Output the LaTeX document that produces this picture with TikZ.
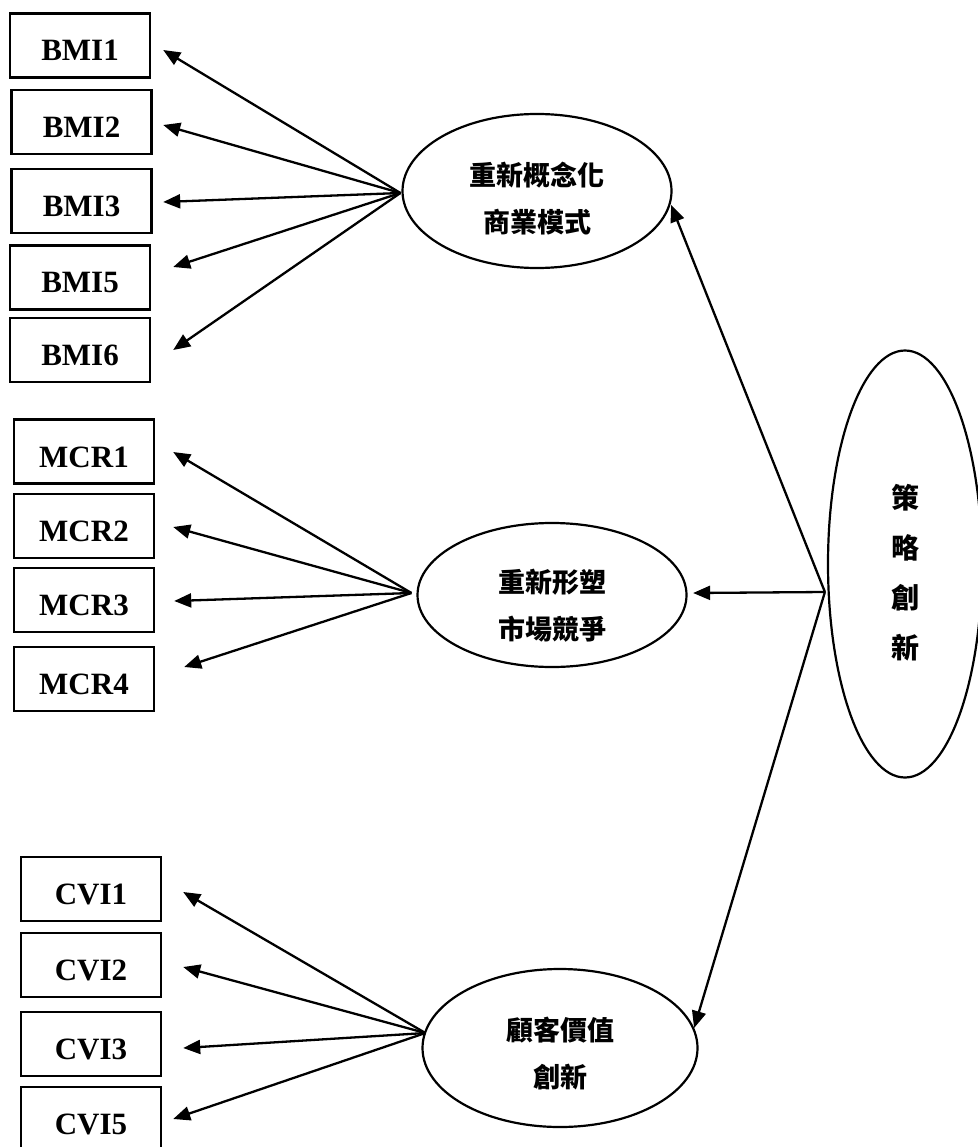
\documentclass[tikz,border=0pt]{standalone}
\usepackage{fontspec}
\setmainfont{Liberation Serif}
\newfontfamily\cjk{Noto Sans CJK TC}
\usetikzlibrary{arrows.meta,shapes.geometric,calc}
\begin{document}
\begin{tikzpicture}[x=1pt,y=-1pt,
  ind/.style={draw, line width=2.4pt, minimum width=140pt, minimum height=64pt, inner sep=0pt,
    font=\fontsize{31}{31}\selectfont\bfseries, text height=31pt, text depth=0pt},
  lat/.style={draw, ellipse, line width=2.2pt, inner sep=0pt},
  ctext/.style={font=\cjk\bfseries\fontsize{27}{47}\selectfont, align=center, inner sep=0pt},
  vtext/.style={font=\cjk\bfseries\fontsize{28}{50}\selectfont, align=center, inner sep=0pt},
  arr/.style={-{Triangle[length=17pt,width=14pt]}, line width=2.3pt}]
\useasboundingbox (0,0) rectangle (977,1147);
% indicators
\node[ind] (b1) at (80,45.5) {BMI1};
\node[ind] (b2) at (81.5,122) {BMI2};
\node[ind] (b3) at (81.5,201) {BMI3};
\node[ind] (b5) at (80,277.5) {BMI5};
\node[ind] (b6) at (80,350) {BMI6};
\node[ind] (m1) at (84,451.5) {MCR1};
\node[ind] (m2) at (84,526) {MCR2};
\node[ind] (m3) at (84,600) {MCR3};
\node[ind] (m4) at (84,679) {MCR4};
\node[ind] (v1) at (91,889) {CVI1};
\node[ind] (v2) at (91,965) {CVI2};
\node[ind] (v3) at (91,1044) {CVI3};
\node[ind] (v5) at (91,1119) {CVI5};
% latent variables
\node[lat, minimum width=269pt, minimum height=154pt] (e1) at (537,191) {};
\node[ctext] (e1t) at (537,198.5) {重新概念化\\商業模式};
\node[lat, minimum width=269pt, minimum height=144pt] (e2) at (552,595) {};
\node[ctext] (e2t) at (552,605.5) {重新形塑\\市場競爭};
\node[lat, minimum width=275pt, minimum height=158pt] (e3) at (560,1048) {};
\node[ctext] (e3t) at (560,1054) {顧客價值\\創新};
\node[lat, minimum width=154pt, minimum height=427pt] (s) at (905,564) {};
\node[vtext] (st) at (905,573) {策\\略\\創\\新};
% convergence points
\coordinate (c1) at ($(e1.west)+(-1,2)$);
\coordinate (c2) at ($(e2.west)+(-5,-2)$);
\coordinate (c3) at ($(e3.west)+(4,-15)$);
\coordinate (cs) at ($(s.west)+(-2,28)$);
% arrows
\draw[arr] (c1) -- ($(b1.east)+(12,4.5)$);
\draw[arr] (c1) -- ($(b2.east)+(10.5,3)$);
\draw[arr] (c1) -- ($(b3.east)+(10.5,1)$);
\draw[arr] (c1) -- ($(b5.east)+(22,-10.5)$);
\draw[arr] (c1) -- ($(b6.east)+(22,0)$);
\draw[arr] (c2) -- ($(m1.east)+(18,0.5)$);
\draw[arr] (c2) -- ($(m2.east)+(18,1)$);
\draw[arr] (c2) -- ($(m3.east)+(19,1)$);
\draw[arr] (c2) -- ($(m4.east)+(29,-12)$);
\draw[arr] (c3) -- ($(v1.east)+(21,3)$);
\draw[arr] (c3) -- ($(v2.east)+(21,2)$);
\draw[arr] (c3) -- ($(v3.east)+(21,4)$);
\draw[arr] (c3) -- ($(v5.east)+(11,0)$);
\draw[arr] (cs) -- ($(e1.east)+(-1.5,14)$);
\draw[arr] (cs) -- ($(e2.east)+(5.5,-2)$);
\draw[arr] (cs) -- ($(e3.east)+(-4.5,-20)$);
\end{tikzpicture}
\end{document}
